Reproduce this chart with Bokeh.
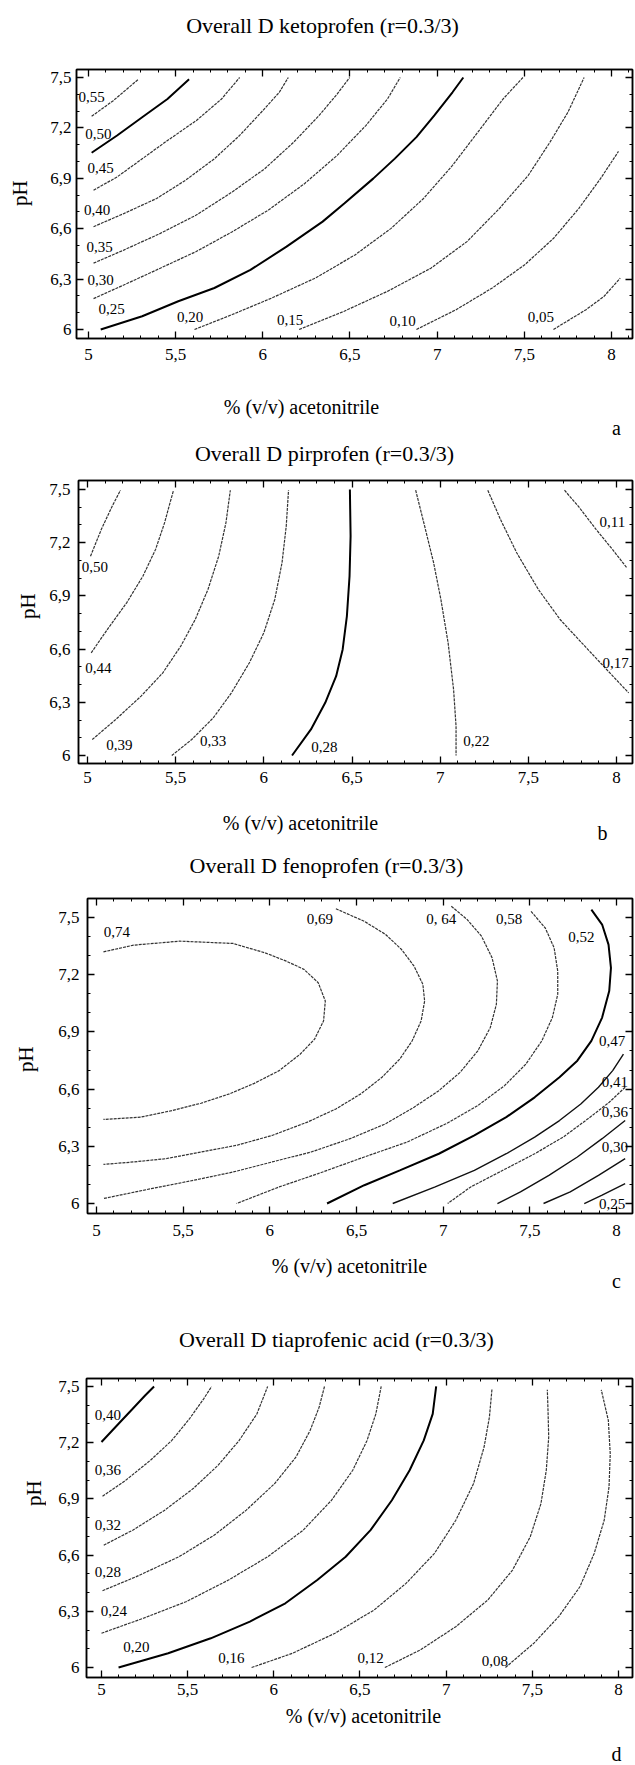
import math
from bokeh.plotting import figure
from bokeh.layouts import column, row
from bokeh.models import Range1d, FixedTicker, LinearAxis, ColumnDataSource
from bokeh.core.properties import value
from bokeh.embed import file_html
from bokeh.resources import INLINE

FONT = "Liberation Serif"
PAGE_W = 635
LEFT_W = 46

# ---------------- axis ticks ----------------
x_ticks = [5, 5.5, 6, 6.5, 7, 7.5, 8]
x_tick_labels = ["5", "5,5", "6", "6,5", "7", "7,5", "8"]
y_ticks = [6, 6.3, 6.6, 6.9, 7.2, 7.5]
y_tick_labels = ["6", "6,3", "6,6", "6,9", "7,2", "7,5"]
x_minor = [round(4.9 + 0.1 * i, 1) for i in range(33)]
y_minor = [round(5.9 + 0.1 * i, 1) for i in range(18)]

x_title = "% (v/v) acetonitrile"
y_title = "pH"

# ---------------- panel a: ketoprofen ----------------
a_title = "Overall D ketoprofen (r=0.3/3)"
a_levels = ["0,55", "0,50", "0,45", "0,40", "0,35", "0,30", "0,25", "0,20", "0,15", "0,10", "0,05"]
a_x = [
    [5.018, 5.142, 5.287],
    [5.018, 5.164, 5.308, 5.453, 5.577],
    [5.029, 5.164, 5.308, 5.453, 5.618, 5.763, 5.867],
    [5.029, 5.205, 5.391, 5.556, 5.722, 5.867, 5.991, 6.094, 6.146],
    [5.029, 5.205, 5.412, 5.618, 5.825, 6.011, 6.177, 6.322, 6.426, 6.498],
    [5.029, 5.205, 5.412, 5.618, 5.825, 6.032, 6.239, 6.426, 6.591, 6.715, 6.788],
    [5.070, 5.308, 5.515, 5.722, 5.929, 6.136, 6.343, 6.467, 6.633, 6.757, 6.881, 6.984, 7.088, 7.150],
    [5.608, 5.825, 6.053, 6.301, 6.529, 6.736, 6.922, 7.088, 7.233, 7.378, 7.492],
    [6.208, 6.467, 6.715, 6.964, 7.171, 7.357, 7.523, 7.647, 7.750, 7.843],
    [6.881, 7.109, 7.316, 7.502, 7.668, 7.812, 7.937, 8.040],
    [7.667, 7.854, 7.957, 8.050],
]
a_y = [
    [7.269, 7.362, 7.490],
    [7.052, 7.155, 7.263, 7.372, 7.490],
    [6.829, 6.908, 7.016, 7.125, 7.243, 7.372, 7.500],
    [6.612, 6.691, 6.780, 6.888, 7.016, 7.155, 7.293, 7.411, 7.500],
    [6.395, 6.474, 6.572, 6.681, 6.819, 6.957, 7.115, 7.273, 7.401, 7.500],
    [6.184, 6.266, 6.365, 6.464, 6.582, 6.711, 6.868, 7.036, 7.214, 7.372, 7.500],
    [6.000, 6.079, 6.168, 6.247, 6.355, 6.493, 6.642, 6.750, 6.898, 7.017, 7.145, 7.274, 7.412, 7.500],
    [6.000, 6.089, 6.188, 6.306, 6.444, 6.602, 6.780, 6.977, 7.174, 7.372, 7.500],
    [6.000, 6.109, 6.227, 6.365, 6.523, 6.720, 6.918, 7.115, 7.293, 7.500],
    [6.000, 6.118, 6.247, 6.385, 6.543, 6.720, 6.898, 7.060],
    [6.000, 6.118, 6.197, 6.306],
]
a_lab_x = [5.018, 5.056, 5.070, 5.049, 5.064, 5.070, 5.132, 5.583, 6.157, 6.802, 7.595]
a_lab_y = [7.382, 7.161, 6.961, 6.711, 6.489, 6.292, 6.122, 6.075, 6.059, 6.053, 6.073]
a_style = ["thin", "bold", "thin", "thin", "thin", "thin", "bold", "thin", "thin", "thin", "thin"]

# ---------------- panel b: pirprofen ----------------
b_title = "Overall D pirprofen (r=0.3/3)"
b_levels = ["0,50", "0,44", "0,39", "0,33", "0,28", "0,22", "0,17", "0,11"]
b_x = [
    [5.017, 5.078, 5.140, 5.187],
    [5.021, 5.119, 5.222, 5.314, 5.386, 5.437, 5.468, 5.488],
    [5.027, 5.160, 5.304, 5.427, 5.529, 5.611, 5.683, 5.744, 5.785, 5.810],
    [5.478, 5.591, 5.713, 5.816, 5.918, 6.000, 6.062, 6.103, 6.127, 6.140],
    [6.160, 6.267, 6.348, 6.410, 6.447, 6.471, 6.486, 6.492, 6.488],
    [6.861, 6.912, 6.963, 7.004, 7.045, 7.076, 7.090, 7.090],
    [7.270, 7.342, 7.434, 7.557, 7.680, 7.803, 7.926, 8.069],
    [7.705, 7.783, 7.885, 7.977, 8.059],
]
b_y = [
    [7.124, 7.274, 7.406, 7.496],
    [6.579, 6.720, 6.861, 7.011, 7.162, 7.312, 7.425, 7.496],
    [6.090, 6.203, 6.335, 6.466, 6.617, 6.767, 6.936, 7.124, 7.312, 7.496],
    [6.000, 6.090, 6.212, 6.353, 6.523, 6.692, 6.880, 7.086, 7.293, 7.496],
    [6.000, 6.147, 6.297, 6.447, 6.598, 6.786, 7.011, 7.237, 7.500],
    [7.496, 7.293, 7.086, 6.880, 6.635, 6.372, 6.165, 6.000],
    [7.496, 7.331, 7.143, 6.936, 6.767, 6.635, 6.504, 6.353],
    [7.496, 7.406, 7.274, 7.162, 7.058],
]
b_lab_x = [5.042, 5.062, 5.181, 5.713, 6.344, 7.205, 7.995, 7.977]
b_lab_y = [7.064, 6.494, 6.062, 6.081, 6.049, 6.081, 6.523, 7.316]
b_style = ["thin", "thin", "thin", "thin", "bold", "thin", "thin", "thin"]

# ---------------- panel c: fenoprofen ----------------
c_title = "Overall D fenoprofen (r=0.3/3)"
c_levels = ["0,74", "0,69", "0, 64", "0,58", "0,52", "0,47", "0,41", "0,36", "0,30", "0,25"]
c_x = [
    [5.040, 5.214, 5.480, 5.787, 5.972, 6.095, 6.197, 6.279, 6.320, 6.310, 6.258, 6.176, 6.054,
     5.910, 5.767, 5.603, 5.439, 5.255, 5.040],
    [6.381, 6.545, 6.668, 6.760, 6.832, 6.883, 6.893, 6.873, 6.821, 6.750, 6.647, 6.525, 6.381,
     6.217, 6.013, 5.808, 5.603, 5.398, 5.214, 5.040],
    [7.047, 7.139, 7.221, 7.282, 7.313, 7.307, 7.272, 7.200, 7.098, 6.975, 6.832, 6.668, 6.463,
     6.238, 6.013, 5.787, 5.562, 5.316, 5.040],
    [7.507, 7.589, 7.640, 7.661, 7.661, 7.630, 7.569, 7.477, 7.354, 7.200, 7.016, 6.791, 6.545,
     6.279, 6.054, 5.808],
    [7.855, 7.917, 7.954, 7.968, 7.958, 7.917, 7.855, 7.774, 7.671, 7.528, 7.364, 7.180, 6.975,
     6.750, 6.545, 6.330],
    [8.040, 7.978, 7.896, 7.794, 7.671, 7.528, 7.364, 7.180, 6.954, 6.709],
    [8.050, 7.958, 7.835, 7.692, 7.528, 7.344, 7.159, 7.026],
    [8.050, 7.917, 7.774, 7.610, 7.446, 7.313],
    [8.050, 7.896, 7.733, 7.579],
    [8.050, 7.917, 7.814],
]
c_y = [
    [7.320, 7.355, 7.376, 7.364, 7.315, 7.271, 7.228, 7.158, 7.062, 6.958, 6.862, 6.784, 6.697,
     6.630, 6.575, 6.526, 6.488, 6.453, 6.441],
    [7.546, 7.480, 7.411, 7.332, 7.245, 7.149, 7.062, 6.958, 6.853, 6.758, 6.662, 6.575, 6.496,
     6.427, 6.357, 6.305, 6.270, 6.235, 6.218, 6.205],
    [7.559, 7.489, 7.402, 7.289, 7.167, 7.045, 6.923, 6.801, 6.688, 6.592, 6.505, 6.418, 6.340,
     6.270, 6.218, 6.165, 6.122, 6.078, 6.026],
    [7.532, 7.445, 7.341, 7.219, 7.097, 6.975, 6.853, 6.731, 6.618, 6.514, 6.418, 6.322, 6.244,
     6.157, 6.087, 6.000],
    [7.541, 7.463, 7.358, 7.236, 7.114, 6.975, 6.853, 6.749, 6.662, 6.557, 6.453, 6.357, 6.261,
     6.174, 6.096, 6.000],
    [6.784, 6.697, 6.610, 6.522, 6.435, 6.348, 6.261, 6.174, 6.087, 6.000],
    [6.610, 6.531, 6.444, 6.348, 6.261, 6.174, 6.087, 6.000],
    [6.435, 6.340, 6.244, 6.148, 6.061, 6.000],
    [6.235, 6.148, 6.061, 6.000],
    [6.104, 6.044, 6.000],
]
c_lab_x = [5.118, 6.289, 6.989, 7.380, 7.798, 7.975, 7.990, 7.990, 7.990, 7.975]
c_lab_y = [7.424, 7.490, 7.490, 7.490, 7.398, 6.853, 6.636, 6.479, 6.296, 5.995]
c_style = ["thin", "thin", "thin", "thin", "bold", "mid", "thin", "mid", "mid", "mid"]

# ---------------- panel d: tiaprofenic acid ----------------
d_title = "Overall D tiaprofenic acid (r=0.3/3)"
d_levels = ["0,40", "0,36", "0,32", "0,28", "0,24", "0,20", "0,16", "0,12", "0,08"]
d_x = [
    [5.000, 5.099, 5.181, 5.253, 5.305],
    [5.006, 5.140, 5.284, 5.408, 5.511, 5.593, 5.639],
    [5.013, 5.181, 5.367, 5.532, 5.676, 5.799, 5.902, 5.964],
    [5.006, 5.202, 5.449, 5.655, 5.840, 6.005, 6.129, 6.211, 6.263, 6.294],
    [5.000, 5.243, 5.490, 5.737, 5.964, 6.170, 6.335, 6.458, 6.541, 6.592, 6.623],
    [5.099, 5.387, 5.634, 5.861, 6.067, 6.252, 6.417, 6.561, 6.685, 6.788, 6.870, 6.922, 6.942],
    [5.871, 6.108, 6.355, 6.582, 6.767, 6.932, 7.056, 7.159, 7.220, 7.251, 7.266],
    [6.644, 6.850, 7.056, 7.241, 7.385, 7.488, 7.550, 7.581, 7.595, 7.591, 7.587],
    [7.344, 7.509, 7.653, 7.776, 7.859, 7.917, 7.945, 7.952, 7.941, 7.900],
]
d_y = [
    [7.204, 7.301, 7.381, 7.452, 7.500],
    [6.914, 6.999, 7.106, 7.212, 7.328, 7.434, 7.500],
    [6.653, 6.733, 6.840, 6.955, 7.079, 7.212, 7.354, 7.500],
    [6.410, 6.485, 6.591, 6.707, 6.840, 6.982, 7.124, 7.266, 7.390, 7.500],
    [6.183, 6.263, 6.351, 6.467, 6.591, 6.733, 6.893, 7.053, 7.212, 7.354, 7.500],
    [6.000, 6.076, 6.156, 6.245, 6.343, 6.467, 6.591, 6.733, 6.893, 7.053, 7.212, 7.354, 7.500],
    [6.000, 6.076, 6.183, 6.307, 6.449, 6.609, 6.786, 6.982, 7.177, 7.337, 7.488],
    [6.000, 6.094, 6.218, 6.360, 6.520, 6.698, 6.875, 7.053, 7.230, 7.372, 7.482],
    [6.000, 6.130, 6.272, 6.431, 6.609, 6.786, 6.964, 7.141, 7.319, 7.482],
]
d_lab_x = [5.037, 5.037, 5.037, 5.037, 5.072, 5.202, 5.754, 6.561, 7.282]
d_lab_y = [7.346, 7.053, 6.760, 6.508, 6.304, 6.108, 6.050, 6.050, 6.037]
d_style = ["bold", "thin", "thin", "thin", "thin", "bold", "thin", "thin", "thin"]

# ---------------- layout geometry (page pixels) ----------------
# seg: [header top, main top, footer top, end]; frame: left, right, top, bottom
geo = {
    "a": dict(seg=(0, 60, 380, 440), fl=76, fr=632, ft=69, fb=338,
              x0=4.9312, x1=8.1205, y0=5.9464, y1=7.5476, xs=10, ys=5,
              title=(322, 25), xt=(301, 406), yt=(19, 207), let=(616, 427)),
    "b": dict(seg=(440, 471, 800, 845), fl=77, fr=632, ft=480, fb=763,
              x0=4.949, x1=8.0906, y0=5.9549, y1=7.5508, xs=8, ys=8,
              title=(324, 453), xt=(300, 822), yt=(27, 617), let=(602, 832)),
    "c": dict(seg=(845, 889, 1250, 1300), fl=87, fr=632, ft=898, fb=1213,
              x0=4.948, x1=8.0923, y0=5.9476, y1=7.5997, xs=11, ys=8,
              title=(326, 865), xt=(349, 1265), yt=(25, 1073), let=(616, 1280)),
    "d": dict(seg=(1300, 1369, 1703, 1765), fl=86, fr=632, ft=1378, fb=1677,
              x0=4.913, x1=8.0812, y0=5.9468, y1=7.5426, xs=6, ys=7,
              title=(336, 1339), xt=(363, 1715), yt=(33, 1497), let=(616, 1753)),
}

STYLES = {
    "thin": dict(line_color="#333333", line_width=1.2, line_dash="3 1"),
    "mid": dict(line_color="#111111", line_width=1.4, line_dash="solid"),
    "bold": dict(line_color="#000000", line_width=2.0, line_dash="solid"),
}


def text_fig(w, h, items):
    """A blank strip whose frame is the whole canvas, used to place free text."""
    f = figure(width=w, height=h, x_range=Range1d(0, w), y_range=Range1d(0, h),
               output_backend="svg", toolbar_location=None, title=None,
               x_axis_location=None, y_axis_location=None,
               min_border_left=0, min_border_right=0, min_border_top=0, min_border_bottom=0)
    f.grid.visible = False
    f.outline_line_color = None
    f.background_fill_color = "white"
    f.border_fill_color = "white"
    for (px, py, txt, size, ang) in items:
        f.text(x=[px], y=[h - py], text=[txt], text_font=value(FONT),
               text_font_size=value(size), text_font_style="normal",
               text_align="center", text_baseline="middle",
               angle=ang, text_color="black")
    return f


def make_axis(kind, labelled, standoff):
    if kind == "x":
        ticker = FixedTicker(ticks=x_ticks, minor_ticks=x_minor)
        overrides = {t: l for t, l in zip(x_ticks, x_tick_labels)}
    else:
        ticker = FixedTicker(ticks=y_ticks, minor_ticks=y_minor)
        overrides = {t: l for t, l in zip(y_ticks, y_tick_labels)}
    ax = LinearAxis(ticker=ticker,
                    major_label_overrides=overrides if labelled else {t: "" for t in ticker.ticks})
    ax.axis_line_color = "black"
    ax.axis_line_width = 1.5
    ax.major_tick_in = 7
    ax.major_tick_out = 0
    ax.minor_tick_in = 3
    ax.minor_tick_out = 0
    ax.major_tick_line_color = "black"
    ax.minor_tick_line_color = "black"
    ax.major_tick_line_width = 1.3
    ax.major_label_text_font = FONT
    ax.major_label_text_color = "black"
    if labelled:
        ax.major_label_text_font_size = "17px"
        ax.major_label_standoff = standoff
    else:
        ax.major_label_text_font_size = "0px"
        ax.major_label_standoff = 0
    return ax


def build(key, title, levels, xs, ys, lab_x, lab_y, style):
    g = geo[key]
    s0, s1, s2, s3 = g["seg"]
    main_w = PAGE_W - LEFT_W
    main_h = s2 - s1

    header = text_fig(PAGE_W, s1 - s0, [(g["title"][0], g["title"][1] - s0, title, "22px", 0)])
    left = text_fig(LEFT_W, main_h, [(g["yt"][0], g["yt"][1] - s1, y_title, "21px", math.pi / 2)])
    footer = text_fig(PAGE_W, s3 - s2, [
        (g["xt"][0], g["xt"][1] - s2, x_title, "20px", 0),
        (g["let"][0], g["let"][1] - s2, key, "20px", 0),
    ])

    p = figure(width=main_w, height=main_h,
               x_range=Range1d(g["x0"], g["x1"]), y_range=Range1d(g["y0"], g["y1"]),
               output_backend="svg", toolbar_location=None, title=None,
               x_axis_location=None, y_axis_location=None,
               min_border_left=g["fl"] - LEFT_W, min_border_right=PAGE_W - g["fr"],
               min_border_top=g["ft"] - s1, min_border_bottom=s2 - g["fb"])
    p.grid.visible = False
    p.outline_line_color = "black"
    p.outline_line_width = 1.5
    p.background_fill_color = "white"
    p.border_fill_color = "white"

    p.add_layout(make_axis("x", True, g["xs"]), "below")
    p.add_layout(make_axis("y", True, g["ys"]), "left")
    p.add_layout(make_axis("x", False, 0), "above")
    p.add_layout(make_axis("y", False, 0), "right")

    for i in range(len(xs)):
        p.line(xs[i], ys[i], **STYLES[style[i]])

    src = ColumnDataSource(dict(x=lab_x, y=lab_y, t=levels))
    p.text(x="x", y="y", text="t", source=src, text_font=value(FONT),
           text_font_size=value("15px"), text_align="center", text_baseline="middle",
           text_color="black")

    return column(header, row(left, p, spacing=0), footer, spacing=0)


pa = build("a", a_title, a_levels, a_x, a_y, a_lab_x, a_lab_y, a_style)
pb = build("b", b_title, b_levels, b_x, b_y, b_lab_x, b_lab_y, b_style)
pc = build("c", c_title, c_levels, c_x, c_y, c_lab_x, c_lab_y, c_style)
pd = build("d", d_title, d_levels, d_x, d_y, d_lab_x, d_lab_y, d_style)

p = column(pa, pb, pc, pd, spacing=0)
open("out.html", "w").write(file_html(p, INLINE))
